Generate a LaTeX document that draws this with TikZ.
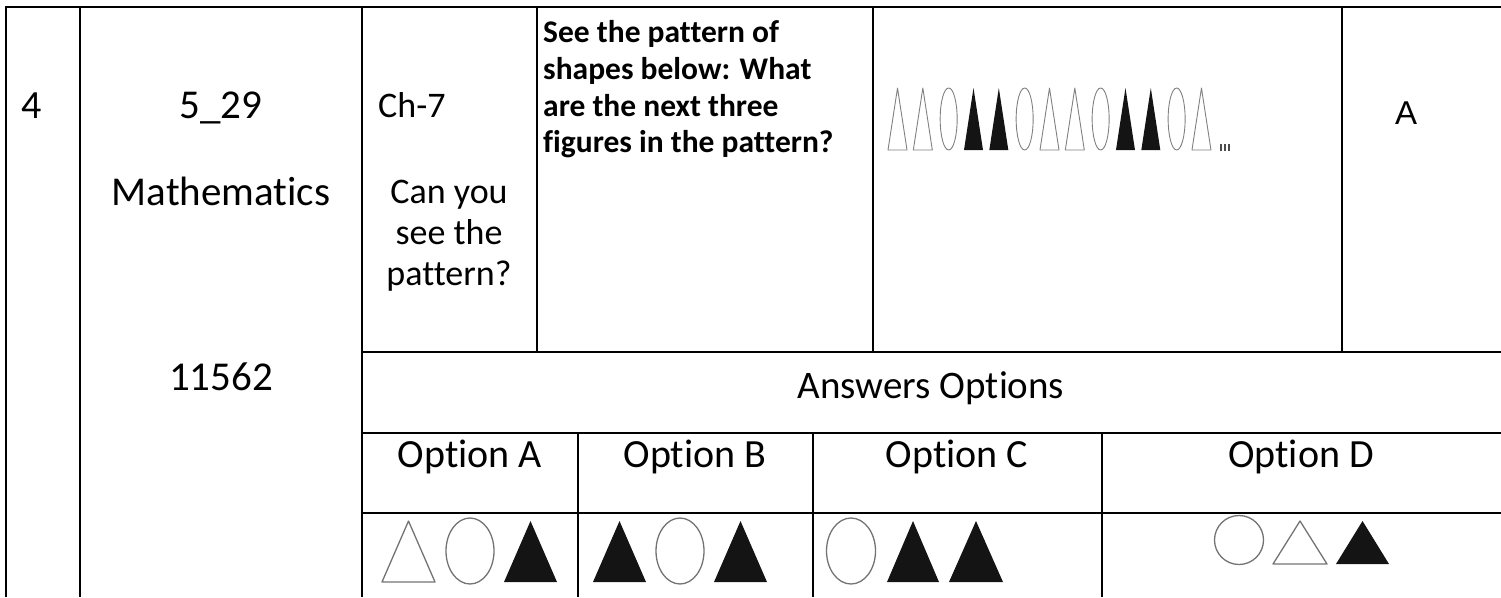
\documentclass[tikz,border=0pt]{standalone}
\usepackage{fontspec}
\setmainfont{Carlito}[Ligatures=NoCommon]
\newfontfamily\arialfnt{Liberation Sans}
\def\fsz#1#2{\fontsize{#1}{#2}\selectfont}

\begin{document}
\begin{tikzpicture}[x=1pt,y=-1pt,
    rule/.style={line width=2.6pt},
    cell/.style={inner sep=0pt,anchor=base},
    openfig/.style={draw=black!55,line width=1.3pt,line join=round},
    thinfig/.style={draw=black!50,line width=0.9pt,line join=round},
    fullfig/.style={fill=black!92}]
\useasboundingbox (0,0) rectangle (1501,597);
%
% table rules
\draw[rule] (6,597) -- (6,7) -- (1501,7);
\draw[rule] (80,7) -- (80,597);
\draw[rule] (362,7) -- (362,597);
\draw[rule] (537,7) -- (537,352);
\draw[rule] (873,7) -- (873,352);
\draw[rule] (1342,7) -- (1342,352);
\draw[rule] (362,352) -- (1501,352);
\draw[rule] (362,433) -- (1501,433);
\draw[rule] (362,513) -- (1501,513);
\draw[rule] (578,433) -- (578,597);
\draw[rule] (813,433) -- (813,597);
\draw[rule] (1102,433) -- (1102,597);
%
% first row
      \node[cell,font=\fsz{40}{48}] at (32,118) (sno) {4};
      \node[cell,font=\fsz{41}{48}] at (221,118) (code) {5\_29};
        \node[cell,font=\fsz{41}{48}] at (221,205) (subj) {Mathematics};
          \node[cell,font=\fsz{41}{48}] at (221,390) (qid) {11562};
      \node[cell,anchor=base west,font=\fsz{36}{41}] at (378,117) (chap) {Ch-7};
        \node[cell,font=\fsz{36}{41}] at (449,203) (chname1) {Can you};
        \node[cell,font=\fsz{36}{41}] at (449,244) (chname2) {see the};
        \node[cell,font=\fsz{36}{41}] at (449,285) (chname3) {pattern?};
   \node[cell,anchor=base west,font=\bfseries\fsz{31.5}{36}] at (543,42) (q1) {See the pattern of};
   \node[cell,anchor=base west,font=\bfseries\fsz{31.5}{36}] at (543,79) (q2) {shapes below: What};
   \node[cell,anchor=base west,font=\bfseries\fsz{31.5}{36}] at (543,116) (q3) {are the next three};
   \node[cell,anchor=base west,font=\bfseries\fsz{31.5}{36}] at (543,152) (q4) {figures in the pattern?};
      \node[cell,font=\arialfnt\fsz{33}{40}] at (1406,124) (key) {A};
%
% pattern picture
\foreach \k in {0,1,6,7,12}
   \draw[thinfig] (888+25.33*\k,150) -- (897.5+25.33*\k,88) -- (907+25.33*\k,150) -- cycle;
\foreach \k in {2,5,8,11}
   \draw[thinfig] (898+25.33*\k,119) ellipse (8.5 and 31);
\foreach \k in {3,4,9,10}
   \fill[fullfig] (888+25.33*\k,150) -- (897.5+25.33*\k,88) -- (907+25.33*\k,150) -- cycle;
\foreach \k in {0,1,2}
   \draw[line width=1.2pt,black!70] (1221+4*\k,144) -- (1221+4*\k,151);
%
% answers
      \node[cell,font=\fsz{39}{46}] at (931,398) (ans) {Answers Options};
   \node[cell,font=\fsz{40}{46}] at (470,467) (optA) {Option A};
   \node[cell,font=\fsz{40}{46}] at (695,467) (optB) {Option B};
   \node[cell,font=\fsz{40}{46}] at (957,467) (optC) {Option C};
   \node[cell,font=\fsz{40}{46}] at (1301,467) (optD) {Option D};
%
% option A
\draw[openfig] (382,582) -- (408.5,521) -- (435,582) -- cycle;
\draw[openfig] (470,551) ellipse (24 and 33);
\fill[fullfig] (504,582) -- (530.5,521) -- (557,582) -- cycle;
% option B
\fill[fullfig] (593,582) -- (619.5,521) -- (646,582) -- cycle;
\draw[openfig] (680,551) ellipse (24 and 33);
\fill[fullfig] (714,582) -- (740.5,521) -- (767,582) -- cycle;
% option C
\draw[openfig] (851,551) ellipse (24.5 and 33);
\fill[fullfig] (887,582) -- (913,521) -- (939,582) -- cycle;
\fill[fullfig] (949,582) -- (976,521) -- (1003,582) -- cycle;
% option D
\draw[openfig] (1239,540) circle (24.5);
\draw[openfig] (1273,564) -- (1300,521) -- (1327,564) -- cycle;
\fill[fullfig] (1336,564) -- (1362.5,521) -- (1389,564) -- cycle;

\end{tikzpicture}
\end{document}
